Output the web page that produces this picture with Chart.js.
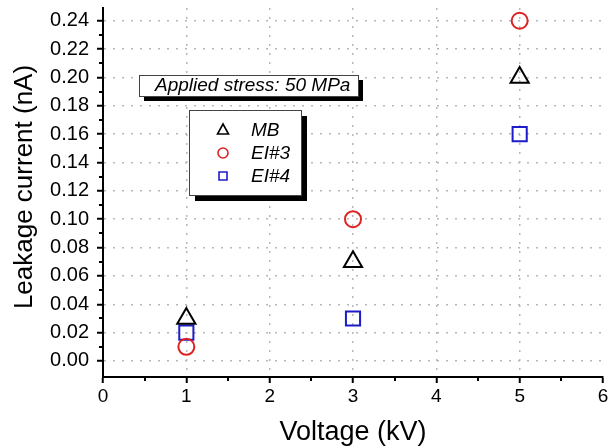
<!DOCTYPE html>
<html>
<head>
<meta charset="utf-8">
<title>Leakage current vs voltage</title>
<script src="https://cdn.jsdelivr.net/npm/chart.js"></script>
<style>
  html, body { margin: 0; padding: 0; background: #fff; }
</style>
</head>
<body>
<canvas id="leakChart" width="608" height="446"></canvas>
<script>
const voltage = [1, 3, 5];
const mbCurrent = [0.03, 0.07, 0.20];
const ei3Current = [0.01, 0.10, 0.24];
const ei4Current = [0.02, 0.03, 0.16];
const xTicks = [0, 1, 2, 3, 4, 5, 6];
const yTicks = [0, 0.02, 0.04, 0.06, 0.08, 0.10, 0.12, 0.14, 0.16, 0.18, 0.20, 0.22, 0.24];
const seriesNames = ['MB', 'EI#3', 'EI#4'];
const stressNote = 'Applied stress: 50 MPa';
const yTitle = 'Leakage current (nA)';

const FONT = "'Liberation Sans', Arial, sans-serif";
const RED = '#dd2222';
const BLUE = '#1c1cc8';

function points(ys) {
  return voltage.map((v, i) => ({ x: v, y: ys[i] }));
}

// no extra room for overhanging tick labels, the plot box is fixed
function noOverhang(scale) {
  scale.paddingTop = 0;
  scale.paddingBottom = 0;
  scale.paddingLeft = 0;
  scale.paddingRight = 0;
}

// minor ticks, y title, the stress note and the legend box with drop shadows
const extras = {
  id: 'extras',
  afterDraw(chart) {
    const ctx = chart.ctx;
    const xs = chart.scales.x, ys = chart.scales.y;
    ctx.save();
    ctx.strokeStyle = '#000';
    ctx.lineWidth = 2;
    ctx.beginPath();
    for (let v = 0.5; v < 6; v += 1) {
      const px = Math.round(xs.getPixelForValue(v));
      ctx.moveTo(px, xs.top);
      ctx.lineTo(px, xs.top + 4);
    }
    for (let k = 1; k < 25; k += 2) {
      const py = Math.round(ys.getPixelForValue(k / 100));
      ctx.moveTo(ys.right - 4, py);
      ctx.lineTo(ys.right, py);
    }
    ctx.stroke();

    ctx.save();
    ctx.translate(25, 187);
    ctx.rotate(-Math.PI / 2);
    ctx.fillStyle = '#000';
    ctx.font = '26px ' + FONT;
    ctx.textAlign = 'center';
    ctx.textBaseline = 'middle';
    ctx.fillText(yTitle, 0, 0);
    ctx.restore();

    function shadowBox(x, y, w, h, off) {
      ctx.fillStyle = '#000';
      ctx.fillRect(x + off, y + off, w, h);
      ctx.fillStyle = '#fff';
      ctx.fillRect(x, y, w, h);
      ctx.strokeStyle = '#444';
      ctx.lineWidth = 1;
      ctx.strokeRect(x + 0.5, y + 0.5, w, h);
    }

    shadowBox(139, 75, 219, 21, 5);
    ctx.fillStyle = '#000';
    ctx.font = 'italic 19px ' + FONT;
    ctx.textBaseline = 'middle';
    ctx.textAlign = 'left';
    ctx.fillText(stressNote, 155, 86);

    shadowBox(189, 110, 112, 85, 6);
    const rows = [130, 153, 176];
    const sets = chart.data.datasets;
    rows.forEach((ry, i) => {
      const ds = sets[i];
      ctx.strokeStyle = ds.borderColor;
      ctx.lineWidth = 1.6;
      ctx.beginPath();
      if (ds.pointStyle === 'triangle') {
        ctx.moveTo(223, ry - 6);
        ctx.lineTo(228.5, ry + 4);
        ctx.lineTo(217.5, ry + 4);
        ctx.closePath();
      } else if (ds.pointStyle === 'circle') {
        ctx.arc(223, ry, 5, 0, Math.PI * 2);
      } else {
        ctx.rect(219, ry - 4, 8, 8);
      }
      ctx.stroke();
      ctx.fillStyle = '#000';
      ctx.font = 'italic 19px ' + FONT;
      ctx.fillText(ds.label, 251, ry + 1);
    });
    ctx.restore();
  }
};

new Chart(document.getElementById('leakChart'), {
  type: 'scatter',
  data: {
    datasets: [
      {
        label: seriesNames[0],
        data: points(mbCurrent),
        pointStyle: 'triangle',
        pointRadius: 10.5,
        borderColor: '#000',
        backgroundColor: 'rgba(0,0,0,0)',
        borderWidth: 2
      },
      {
        label: seriesNames[1],
        data: points(ei3Current),
        pointStyle: 'circle',
        pointRadius: 8,
        borderColor: RED,
        backgroundColor: 'rgba(0,0,0,0)',
        borderWidth: 2
      },
      {
        label: seriesNames[2],
        data: points(ei4Current),
        pointStyle: 'rect',
        pointRadius: 10,
        borderColor: BLUE,
        backgroundColor: 'rgba(0,0,0,0)',
        borderWidth: 2
      }
    ]
  },
  options: {
    responsive: false,
    animation: false,
    layout: { autoPadding: false, padding: { top: 8, right: 5, left: 0, bottom: 0 } },
    plugins: {
      legend: { display: false },
      tooltip: { enabled: false }
    },
    scales: {
      x: {
        type: 'linear',
        min: 0,
        max: 6,
        afterBuildTicks: (scale) => { scale.ticks = xTicks.map(v => ({ value: v })); },
        afterFit: (scale) => { scale.height = 69; noOverhang(scale); },
        ticks: {
          color: '#000',
          font: { family: FONT, size: 19 },
          padding: 2,
          maxRotation: 0
        },
        grid: {
          color: (c) => (c.tick && (c.tick.value === 0 || c.tick.value === 6)) ? 'rgba(0,0,0,0)' : '#b8b8b8',
          lineWidth: 1.5,
          tickColor: '#000',
          tickWidth: 2,
          tickLength: 6,
          tickBorderDash: []
        },
        border: { color: '#000', width: 2, dash: [2, 7] },
        title: {
          display: true,
          text: 'Voltage (kV)',
          color: '#000',
          font: { family: FONT, size: 27, lineHeight: 1 },
          padding: 0
        }
      },
      y: {
        type: 'linear',
        min: -0.0113,
        max: 0.249,
        afterBuildTicks: (scale) => { scale.ticks = yTicks.map(v => ({ value: v })); },
        afterFit: (scale) => { scale.width = 103; noOverhang(scale); },
        ticks: {
          color: '#000',
          font: { family: FONT, size: 20 },
          padding: 8,
          callback: (v) => v.toFixed(2)
        },
        grid: {
          color: '#b8b8b8',
          lineWidth: 1.5,
          tickColor: '#000',
          tickWidth: 2,
          tickLength: 6,
          tickBorderDash: []
        },
        border: { color: '#000', width: 2, dash: [2, 7] }
      }
    }
  },
  plugins: [extras]
});
</script>
</body>
</html>
